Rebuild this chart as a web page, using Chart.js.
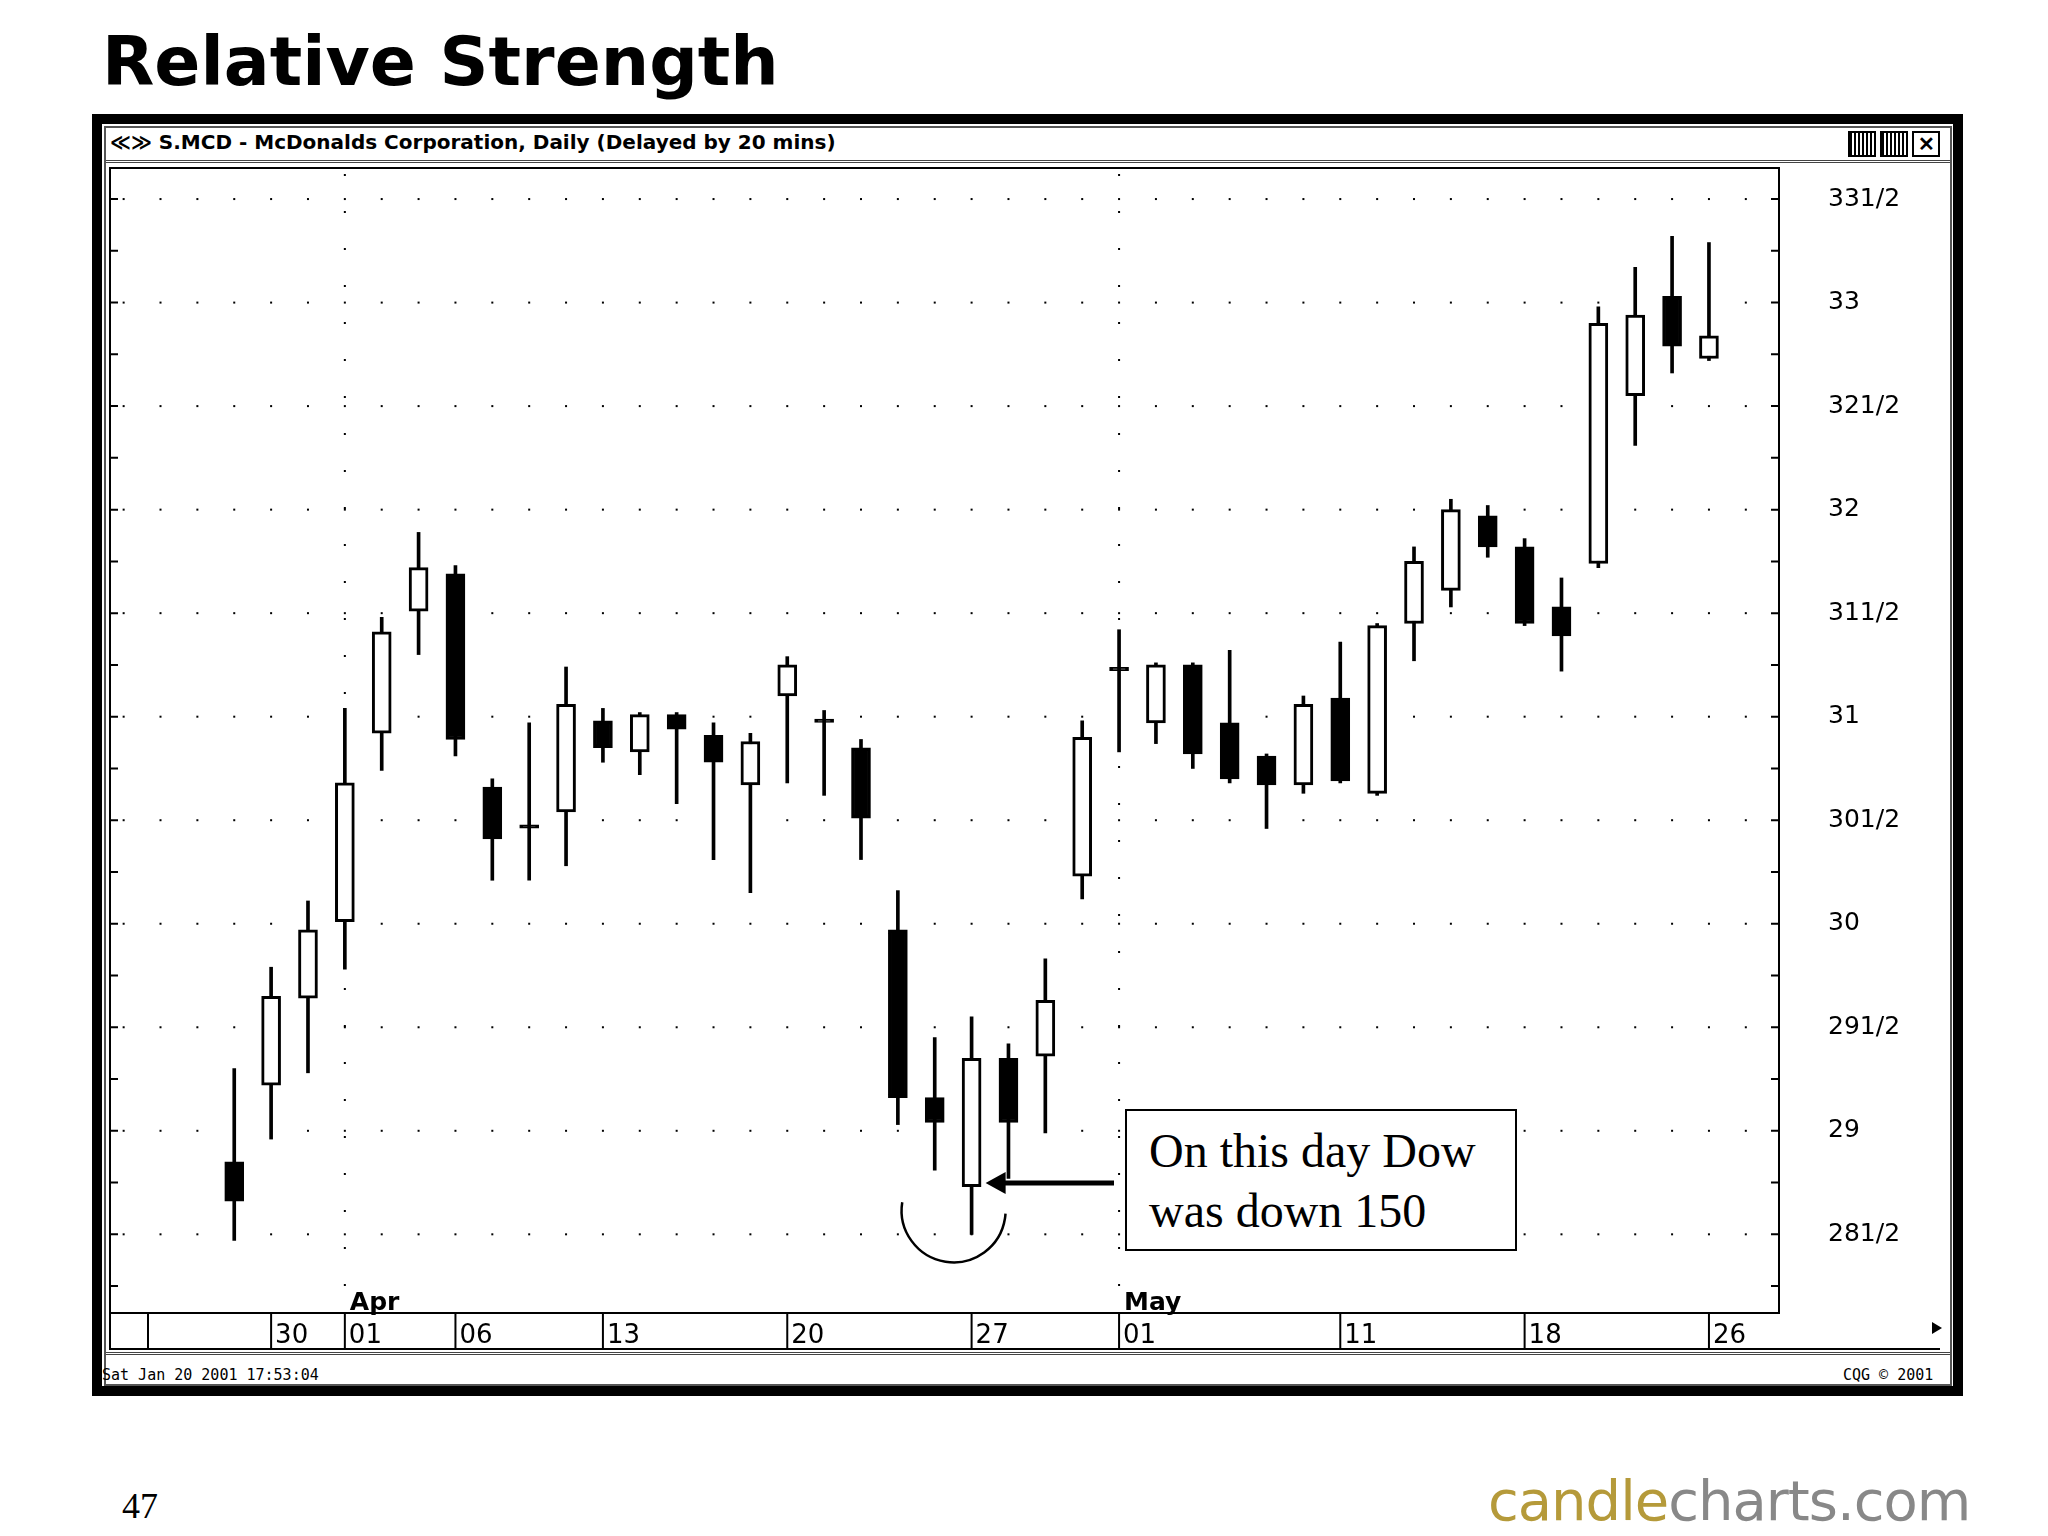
<!DOCTYPE html>
<html><head><meta charset="utf-8">
<script src="https://cdn.jsdelivr.net/npm/chart.js@4.4.1/dist/chart.umd.min.js"></script>
<style>
body{margin:0;width:2048px;height:1536px;background:#fff;position:relative;overflow:hidden;font-family:"DejaVu Sans",sans-serif}
#wrap{position:absolute;left:0;top:0;width:2048px;height:1536px}
.abs{position:absolute}
</style></head><body>
<div class="abs" style="left:102px;top:22px;font:bold 68px 'DejaVu Sans';">Relative Strength</div>
<div class="abs" style="left:92px;top:114px;width:1871px;height:1282px;border:10px solid #000;box-sizing:border-box"></div>
<div class="abs" style="left:104px;top:126px;width:1848px;height:1260px;border:2px solid #555;box-sizing:border-box"></div>
<div class="abs" style="left:106px;top:128px;width:1844px;height:32px;border-bottom:3px double #444;"></div>
<div class="abs" style="left:110px;top:130px;font:bold 20px 'DejaVu Sans';">≪≫ S.MCD - McDonalds Corporation, Daily (Delayed by 20 mins)</div>
<div class="abs" style="left:1848px;top:131px;width:24px;height:22px;border:2px solid #000;background:repeating-linear-gradient(90deg,#000 0 2px,#fff 2px 4px)"></div>
<div class="abs" style="left:1880px;top:131px;width:24px;height:22px;border:2px solid #000;background:repeating-linear-gradient(90deg,#000 0 2px,#fff 2px 4px)"></div>
<div class="abs" style="left:1912px;top:131px;width:24px;height:22px;border:2px solid #000;background:#fff;font:bold 20px sans-serif;line-height:22px;text-align:center">✕</div>
<div class="abs" style="left:106px;top:1352px;width:1844px;border-top:3px double #444;"></div>
<div class="abs" style="left:102px;top:1366px;font:15px 'DejaVu Sans Mono';">Sat Jan 20 2001 17:53:04</div>
<div class="abs" style="left:1843px;top:1366px;font:15px 'DejaVu Sans Mono';">CQG © 2001</div>
<div class="abs" style="left:122px;top:1485px;font:36px 'Liberation Serif';">47</div>
<div class="abs" style="left:1488px;top:1468px;font:56px 'DejaVu Sans';letter-spacing:-1px"><span style="color:#b59a3a">candle</span><span style="color:#888">charts.com</span></div>
<div id="wrap"><canvas id="c" width="2048" height="1536"></canvas></div>
<div class="abs" style="left:1125px;top:1109px;width:392px;height:142px;border:2px solid #000;background:#fff;font:48px 'Liberation Serif';line-height:60px;padding:10px 0 0 22px;box-sizing:border-box">On this day Dow<br>was down 150</div>
<script>
const opens  = [28.85,29.22,29.64,30.01,30.92,31.51,31.69,30.66,30.47,30.54,30.98,30.83,31.01,30.91,30.67,31.10,30.98,30.85,29.97,29.16,28.73,29.35,29.36,30.23,31.23,30.97,31.25,30.97,30.81,30.67,31.09,30.63,31.45,31.61,31.97,31.82,31.53,31.74,32.55,33.03,32.73];
const closes = [28.66,29.65,29.97,30.68,31.41,31.72,30.89,30.41,30.47,31.06,30.85,31.01,30.94,30.78,30.88,31.25,30.98,30.51,29.16,29.04,29.35,29.04,29.63,30.90,31.23,31.25,30.82,30.70,30.67,31.06,30.69,31.44,31.75,32.00,31.82,31.45,31.39,32.90,32.94,32.79,32.84];
const highs  = [29.30,29.79,30.11,31.04,31.48,31.89,31.73,30.70,30.97,31.24,31.04,31.02,31.02,30.97,30.92,31.29,31.03,30.89,30.16,29.45,29.55,29.42,29.83,30.98,31.42,31.26,31.26,31.32,30.82,31.10,31.36,31.45,31.82,32.05,32.02,31.86,31.67,32.98,33.17,33.32,33.29];
const lows   = [28.47,28.96,29.28,29.78,30.74,31.30,30.81,30.21,30.21,30.28,30.78,30.72,30.58,30.31,30.15,30.68,30.62,30.31,29.03,28.81,28.50,28.77,28.99,30.12,30.83,30.87,30.75,30.68,30.46,30.63,30.68,30.62,31.27,31.53,31.77,31.44,31.22,31.72,32.31,32.66,32.72];
const priceTicks = [28.5,29,29.5,30,30.5,31,31.5,32,32.5,33,33.5];
const priceLabels = ['281/2','29','291/2','30','301/2','31','311/2','32','321/2','33','331/2'];
const dateIdx = [2,4,7,11,16,21,25,31,36,41];
const dateLabels = ['30','01','06','13','20','27','01','11','18','26'];
const monthIdx = [4,25];
const monthLabels = ['Apr','May'];

const xs = opens.map((_, i) => i + 1);
const wicks = xs.map((x, i) => ({x, y: [lows[i], highs[i]]}));
const bodies = xs.map((x, i) => {
  let a = Math.min(opens[i], closes[i]), b = Math.max(opens[i], closes[i]);
  if (b - a < 0.02) { a -= 0.008; b += 0.008; }
  return {x, y: [a, b]};
});
const bodyFill = xs.map((_, i) => (closes[i] >= opens[i] && Math.abs(closes[i]-opens[i]) >= 0.02) ? '#fff' : '#000');

const deco = {
  id: 'deco',
  beforeDatasetsDraw(chart) {
    const {ctx, chartArea: a, scales: {x, y}} = chart;
    ctx.save();
    ctx.fillStyle = '#000';
    // dotted grid
    priceTicks.forEach(v => {
      const py = y.getPixelForValue(v);
      for (let i = -3; i <= 43; i++) {
        const px = x.getPixelForValue(i);
        if (px > a.left + 4 && px < a.right - 4) ctx.fillRect(px - 1, py - 1, 2, 2);
      }
    });
    monthIdx.forEach(m => {
      const px = x.getPixelForValue(m);
      for (let py = a.top + 6; py < a.bottom; py += 37) ctx.fillRect(px - 1, py, 2, 2);
    });
    // left/right minor ticks
    ctx.lineWidth = 2; ctx.strokeStyle = '#000';
    for (let v = 28.25; v <= 33.6; v += 0.25) {
      const py = y.getPixelForValue(v);
      ctx.beginPath(); ctx.moveTo(a.left, py); ctx.lineTo(a.left + 8, py);
      ctx.moveTo(a.right, py); ctx.lineTo(a.right - 8, py); ctx.stroke();
    }
    ctx.restore();
  },
  afterDraw(chart) {
    const {ctx, chartArea: a, scales: {x, y}} = chart;
    ctx.save();
    ctx.strokeStyle = '#000'; ctx.fillStyle = '#000'; ctx.lineWidth = 2;
    ctx.strokeRect(a.left, a.top, a.right - a.left, a.bottom - a.top);
    // price labels
    ctx.font = '25px "DejaVu Sans"'; ctx.textBaseline = 'middle';
    priceTicks.forEach((v, i) => ctx.fillText(priceLabels[i], 1828, y.getPixelForValue(v)));
    // date axis row
    const rb = a.bottom + 36;
    ctx.beginPath(); ctx.moveTo(a.left, rb); ctx.lineTo(1940, rb); ctx.stroke();
    ctx.strokeRect(a.left, a.bottom, 38, 36);
    ctx.font = '26px "DejaVu Sans"'; ctx.textBaseline = 'alphabetic';
    dateIdx.forEach((d, i) => {
      const px = x.getPixelForValue(d);
      ctx.beginPath(); ctx.moveTo(px, a.bottom); ctx.lineTo(px, rb); ctx.stroke();
      ctx.fillText(dateLabels[i], px + 4, rb - 6);
    });
    ctx.font = 'bold 25px "DejaVu Sans"';
    monthIdx.forEach((m, i) => ctx.fillText(monthLabels[i], x.getPixelForValue(m) + 5, a.bottom - 3));
    ctx.beginPath(); ctx.moveTo(1932, 1322); ctx.lineTo(1942, 1328); ctx.lineTo(1932, 1334); ctx.fill();
    // arrow and circle
    const cx = x.getPixelForValue(21), cy = y.getPixelForValue(lows[20]);
    ctx.lineWidth = 5;
    ctx.beginPath(); ctx.moveTo(1114, 1183); ctx.lineTo(cx + 30, 1183); ctx.stroke();
    ctx.beginPath(); ctx.moveTo(cx + 14, 1183); ctx.lineTo(cx + 34, 1172); ctx.lineTo(cx + 34, 1194); ctx.fill();
    ctx.lineWidth = 2.5;
    ctx.beginPath(); ctx.arc(cx - 18, cy - 24, 52, Math.PI * 1.05, Math.PI * 0.02, true); ctx.stroke();
    ctx.restore();
  }
};

new Chart(document.getElementById('c'), {
  type: 'bar',
  data: {
    datasets: [
      {data: wicks, backgroundColor: '#000', barThickness: 3, grouped: false, order: 2},
      {data: bodies, backgroundColor: bodyFill, borderColor: '#000', borderWidth: 3, borderSkipped: false, barThickness: 19, grouped: false, order: 1}
    ]
  },
  options: {
    responsive: false, animation: false, devicePixelRatio: 1,
    layout: {padding: {left: 110, top: 168, right: 269, bottom: 223}},
    plugins: {legend: {display: false}, tooltip: {enabled: false}},
    scales: {
      x: {type: 'linear', min: -2.37, max: 42.9, offset: false, display: false},
      y: {min: 28.12, max: 33.65, display: false}
    }
  },
  plugins: [deco]
});
</script>
</body></html>
